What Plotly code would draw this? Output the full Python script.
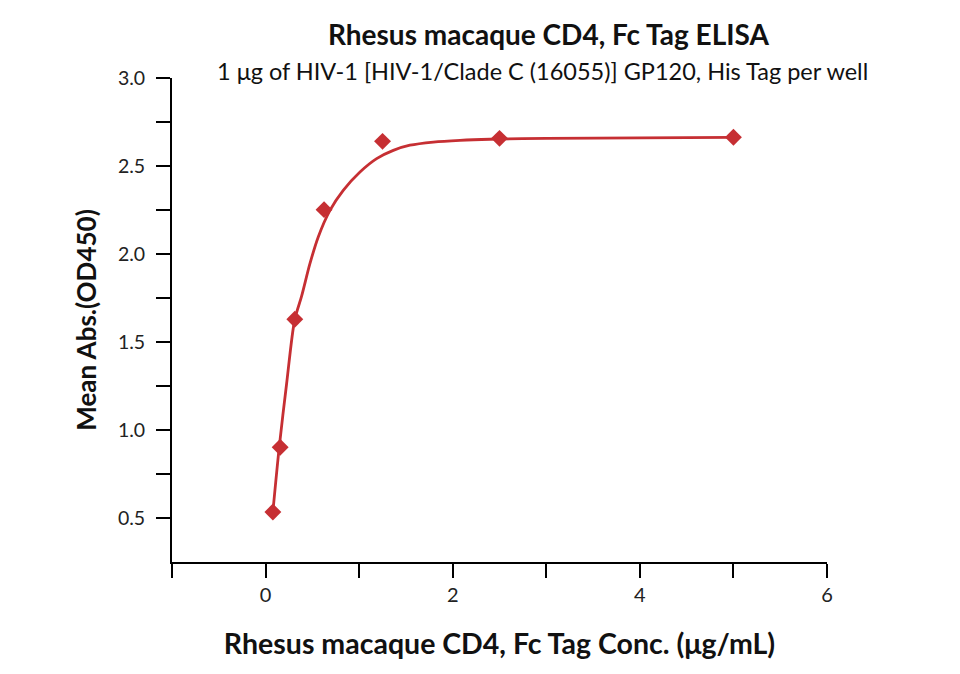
import plotly.graph_objects as go

# Measured data points
conc = [0.078, 0.156, 0.3125, 0.625, 1.25, 2.5, 5.0]
absorb = [0.534, 0.902, 1.629, 2.252, 2.640, 2.657, 2.663]

# Fitted curve
fit_x = [0.078, 0.146, 0.225, 0.310, 0.385, 0.474, 0.563, 0.688, 0.830, 1.009,
         1.187, 1.365, 1.543, 1.793, 2.078, 2.40, 3.0, 4.0, 5.0]
fit_y = [0.534, 0.903, 1.264, 1.623, 1.760, 1.945, 2.097, 2.248, 2.362, 2.466,
         2.542, 2.589, 2.618, 2.636, 2.646, 2.652, 2.657, 2.660, 2.663]

red = "#C62F33"
font = "Lato, 'Open Sans', sans-serif"

fig = go.Figure()
fig.add_trace(go.Scatter(x=fit_x, y=fit_y, mode="lines",
                         line=dict(color=red, width=2.8, shape="spline", smoothing=0.8),
                         hoverinfo="skip", showlegend=False))
fig.add_trace(go.Scatter(x=conc, y=absorb, mode="markers",
                         marker=dict(symbol="diamond", size=13, color=red),
                         showlegend=False))

axis_common = dict(showline=True, linecolor="black", linewidth=1.8, ticks="outside",
                   ticklen=14, tickwidth=1.8, tickcolor="black", showgrid=False,
                   zeroline=False, mirror=False, automargin=False)

fig.update_xaxes(range=[-1, 6], tickvals=[0, 2, 4, 6],
                 tickfont=dict(family=font, size=20, color="#222"),
                 minor=dict(tickvals=[-1, 1, 3, 5], ticks="outside", ticklen=14,
                            tickwidth=1.8, tickcolor="black"),
                 title=dict(text="<b>Rhesus macaque CD4, Fc Tag Conc. (μg/mL)</b>",
                            font=dict(family=font, size=28.5, color="#111"), standoff=29),
                 **axis_common)
fig.update_yaxes(range=[0.25, 3.0], tickvals=[0.5, 1.0, 1.5, 2.0, 2.5, 3.0],
                 tickformat=".1f", ticklabelstandoff=7,
                 tickfont=dict(family=font, size=19.5, color="#222"),
                 minor=dict(tickvals=[0.75, 1.25, 1.75, 2.25, 2.75], ticks="outside",
                            ticklen=14, tickwidth=1.8, tickcolor="black"),
                 title=dict(text="<b>Mean Abs.(OD450)</b>",
                            font=dict(family=font, size=26, color="#111"), standoff=14),
                 **axis_common)

fig.update_layout(
    width=952, height=666,
    margin=dict(l=164, r=133, t=70, b=112),
    plot_bgcolor="white", paper_bgcolor="white",
    annotations=[
        dict(text="<b>Rhesus macaque CD4, Fc Tag ELISA</b>", xref="paper", yref="paper",
             x=0.575, y=1.0, yshift=63, showarrow=False,
             font=dict(family=font, size=28, color="#111")),
        dict(text="1 μg of HIV-1 [HIV-1/Clade C (16055)] GP120, His Tag per well",
             xref="paper", yref="paper", x=0.565, y=1.0, yshift=23, showarrow=False,
             font=dict(family=font, size=23.5, color="#111")),
    ],
)

fig.write_html("out.html")
